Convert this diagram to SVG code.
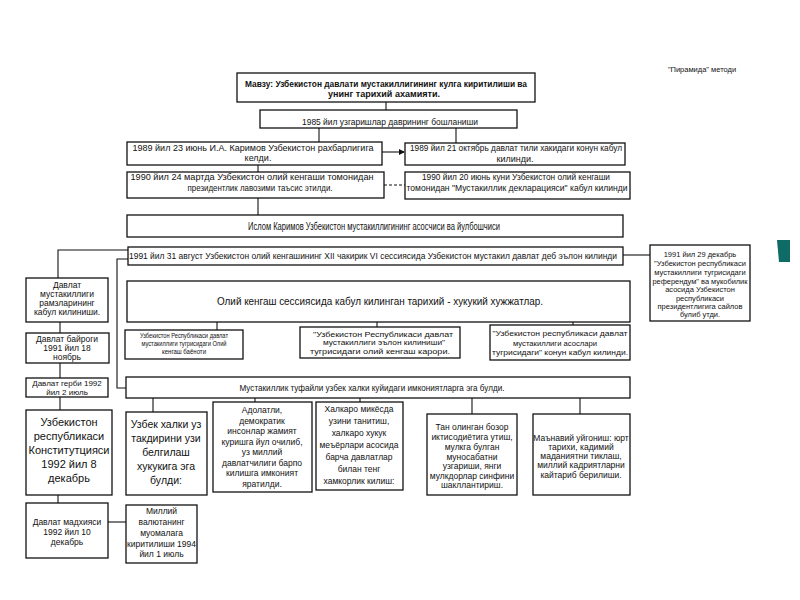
<svg xmlns="http://www.w3.org/2000/svg" width="800" height="600" viewBox="0 0 800 600">
<defs>
<marker id="arr" markerWidth="6" markerHeight="6" refX="5" refY="3" orient="auto" markerUnits="userSpaceOnUse"><path d="M0,0 L6,3 L0,6 z" fill="#111"/></marker>
</defs>
<style>
.b{fill:#fff;stroke:#111;stroke-width:1.3}
.c{fill:none;stroke:#111;stroke-width:1.1}
text{font-family:"Liberation Sans",Arial,sans-serif;fill:#111;text-anchor:middle}
.s7{font-size:7.5px}.s8{font-size:8px}.s85{font-size:8.5px}.s9{font-size:9px}.s10{font-size:10px}.s105{font-size:10.5px}.s11{font-size:11px}
.bd{font-weight:bold}
</style>
<rect width="800" height="600" fill="#fff"/>
<g id="connectors">
<path class="c" d="M386,102 V110"/>
<path class="c" d="M319,128 V142"/>
<path class="c" d="M456,128 V143"/>
<path class="c" d="M382,152 H404" marker-end="url(#arr)"/>
<path class="c" d="M258,165 V172"/>
<path class="c" d="M384,185 H405" stroke-dasharray="3,2"/>
<path class="c" d="M258,198 V215"/>
<path class="c" d="M623,255 H650"/>
<path class="c" d="M128,250 H58 V278"/>
<path class="c" d="M60,322 V333"/>
<path class="c" d="M60,363 V378"/>
<path class="c" d="M60,397 V410"/>
<path class="c" d="M128,259 H117 V388 H126"/>
<path class="c" d="M217,322 V330"/>
<path class="c" d="M377,322 V327"/>
<path class="c" d="M573,322 V325"/>
<path class="c" d="M153,398 V412"/>
<path class="c" d="M255,398 V402"/>
<path class="c" d="M360,398 V402"/>
<path class="c" d="M472,398 V414"/>
<path class="c" d="M580,398 V414"/>
<path class="c" d="M58,495 V503"/>
<path class="c" d="M108,522 H126" stroke-width="2"/>
</g>
<g id="title">
<rect class="b" x="237" y="73" width="298" height="29" stroke-width="2"/>
<text class="s9 bd" x="386" y="87" textLength="282" lengthAdjust="spacingAndGlyphs">Мавзу: Узбекистон давлати мустакиллигининг кулга киритилиши ва</text>
<text class="s9 bd" x="384" y="97" textLength="112" lengthAdjust="spacingAndGlyphs">унинг тарихий ахамияти.</text>
</g>
<g id="method"><text class="s7" x="702" y="72">"Пирамида" методи</text></g>
<g id="n1985">
<rect class="b" x="260" y="110" width="257" height="18"/>
<text class="s9" x="390" y="124.5" textLength="176" lengthAdjust="spacingAndGlyphs">1985 йил узгаришлар даврининг бошланиши</text>
</g>
<g id="n1989a">
<rect class="b" x="127" y="142" width="255" height="23"/>
<text class="s9" x="253" y="151" textLength="241" lengthAdjust="spacingAndGlyphs">1989 йил 23 июнь И.А. Каримов Узбекистон рахбарлигига</text>
<text class="s9" x="258" y="161">келди.</text>
</g>
<g id="n1989b">
<rect class="b" x="405" y="143" width="220" height="22"/>
<text class="s9" x="516" y="151" textLength="212" lengthAdjust="spacingAndGlyphs">1989 йил 21 октябрь давлат тили хакидаги конун кабул</text>
<text class="s9" x="515" y="162">килинди.</text>
</g>
<g id="n1990a">
<rect class="b" x="127" y="172" width="257" height="26"/>
<text class="s9" x="252" y="180" textLength="243" lengthAdjust="spacingAndGlyphs">1990 йил 24 мартда Узбекистон олий кенгаши томонидан</text>
<text class="s9" x="260" y="190.5" textLength="145" lengthAdjust="spacingAndGlyphs">президентлик лавозими таъсис этилди.</text>
</g>
<g id="n1990b">
<rect class="b" x="405" y="172" width="225" height="27"/>
<text class="s9" x="516" y="180" textLength="188" lengthAdjust="spacingAndGlyphs">1990 йил 20 июнь куни Узбекистон олий кенгаши</text>
<text class="s9" x="517" y="191" textLength="221" lengthAdjust="spacingAndGlyphs">томонидан "Мустакиллик декларацияси" кабул килинди</text>
</g>
<g id="karimov">
<rect class="b" x="127" y="215" width="496" height="22"/>
<text class="s10" x="374" y="230" textLength="252" lengthAdjust="spacingAndGlyphs">Ислом Каримов Узбекистон мустакиллигининг асосчиси ва йулбошчиси</text>
</g>
<g id="n1991aug">
<rect class="b" x="128" y="247" width="495" height="18"/>
<text class="s85" x="373" y="259" textLength="488" lengthAdjust="spacingAndGlyphs">1991 йил 31 август Узбекистон олий кенгашининг XII чакирик VI сессиясида Узбекистон мустакил давлат деб эълон килинди</text>
</g>
<g id="n1991dec">
<rect class="b" x="650" y="245" width="100" height="76"/>
<text class="s7" x="700" y="257">1991 йил 29 декабрь</text>
<text class="s7" x="700" y="266">"Узбекистон республикаси</text>
<text class="s7" x="700" y="275">мустакиллиги тугрисидаги</text>
<text class="s7" x="700" y="284" textLength="95" lengthAdjust="spacingAndGlyphs">референдум" ва мукобилик</text>
<text class="s7" x="700" y="292">асосида Узбекистон</text>
<text class="s7" x="700" y="301">республикаси</text>
<text class="s7" x="700" y="309">президентлигига сайлов</text>
<text class="s7" x="700" y="317">булиб утди.</text>
</g>
<g id="symbols">
<rect class="b" x="26" y="278" width="82" height="44"/>
<text class="s85" x="67" y="288">Давлат</text>
<text class="s85" x="67" y="297">мустакиллиги</text>
<text class="s85" x="67" y="306">рамзларининг</text>
<text class="s85" x="67" y="315">кабул килиниши.</text>
</g>
<g id="flag">
<rect class="b" x="26" y="333" width="83" height="30"/>
<text class="s85" x="67" y="342">Давлат байроги</text>
<text class="s85" x="67" y="351">1991 йил 18</text>
<text class="s85" x="67" y="360">ноябрь</text>
</g>
<g id="emblem">
<rect class="b" x="26" y="378" width="82" height="19"/>
<text class="s8" x="67" y="386">Давлат герби 1992</text>
<text class="s8" x="67" y="395">йил 2 июль</text>
</g>
<g id="docs">
<rect class="b" x="127" y="281" width="503" height="41"/>
<text class="s10" x="380" y="305" textLength="326" lengthAdjust="spacingAndGlyphs">Олий кенгаш сессиясида кабул килинган тарихий - хукукий хужжатлар.</text>
</g>
<g id="docA">
<rect class="b" x="125" y="330" width="118" height="29"/>
<text class="s8" x="184" y="338" textLength="88" lengthAdjust="spacingAndGlyphs">Узбекистон Республикаси давлат</text>
<text class="s8" x="184" y="346" textLength="85" lengthAdjust="spacingAndGlyphs">мустакиллиги тугрисидаги Олий</text>
<text class="s8" x="184" y="354" textLength="44" lengthAdjust="spacingAndGlyphs">кенгаш баёноти</text>
</g>
<g id="docB">
<rect class="b" x="300" y="327" width="160" height="31"/>
<text class="s8" x="383" y="337" textLength="140" lengthAdjust="spacingAndGlyphs">"Узбекистон Республикаси давлат</text>
<text class="s8" x="384" y="345" textLength="122" lengthAdjust="spacingAndGlyphs">мустакиллиги эълон килиниши"</text>
<text class="s8" x="380" y="354" textLength="140" lengthAdjust="spacingAndGlyphs">тугрисидаги олий кенгаш карори.</text>
</g>
<g id="docC">
<rect class="b" x="490" y="325" width="140" height="35"/>
<text class="s8" x="560" y="336" textLength="135" lengthAdjust="spacingAndGlyphs">"Узбекистон республикаси давлат</text>
<text class="s8" x="555" y="346" textLength="84" lengthAdjust="spacingAndGlyphs">мустакиллиги асослари</text>
<text class="s8" x="560" y="355" textLength="136" lengthAdjust="spacingAndGlyphs">тугрисидаги" конун кабул килинди.</text>
</g>
<g id="result">
<rect class="b" x="126" y="377" width="504" height="21"/>
<text class="s9" x="372" y="391" textLength="265" lengthAdjust="spacingAndGlyphs">Мустакиллик туфайли узбек халки куйидаги имкониятларга эга булди.</text>
</g>
<g id="constitution">
<rect class="b" x="26" y="410" width="86" height="85"/>
<text class="s11" x="69" y="426">Узбекистон</text>
<text class="s11" x="69" y="440">республикаси</text>
<text class="s11" x="69" y="454">Конститутцияси</text>
<text class="s11" x="69" y="468">1992 йил 8</text>
<text class="s11" x="69" y="482">декабрь</text>
</g>
<g id="selfdet">
<rect class="b" x="126" y="412" width="81" height="83"/>
<text class="s105" x="166" y="428">Узбек халки уз</text>
<text class="s105" x="166" y="442">такдирини узи</text>
<text class="s105" x="166" y="456">белгилаш</text>
<text class="s105" x="166" y="470">хукукига эга</text>
<text class="s105" x="166" y="484">булди:</text>
</g>
<g id="justice">
<rect class="b" x="213" y="402" width="99" height="90"/>
<text class="s85" x="262" y="413">Адолатли,</text>
<text class="s85" x="262" y="423.5">демократик</text>
<text class="s85" x="262" y="434">инсонлар жамият</text>
<text class="s85" x="262" y="444.5">куришга йул очилиб,</text>
<text class="s85" x="262" y="455">уз миллий</text>
<text class="s85" x="262" y="465.5">давлатчилиги барпо</text>
<text class="s85" x="262" y="476">килишга имконият</text>
<text class="s85" x="262" y="486.5">яратилди.</text>
</g>
<g id="intl">
<rect class="b" x="316" y="402" width="87" height="88"/>
<text class="s85" x="359" y="412">Халкаро микёсда</text>
<text class="s85" x="359" y="424">узини танитиш,</text>
<text class="s85" x="359" y="436">халкаро хукук</text>
<text class="s85" x="359" y="448">меъёрлари асосида</text>
<text class="s85" x="359" y="460">барча давлатлар</text>
<text class="s85" x="359" y="472">билан тенг</text>
<text class="s85" x="359" y="484">хамкорлик килиш:</text>
</g>
<g id="market">
<rect class="b" x="427" y="414" width="90" height="81"/>
<text class="s85" x="472" y="430">Тан олинган бозор</text>
<text class="s85" x="472" y="440">иктисодиётига утиш,</text>
<text class="s85" x="472" y="450">мулкга булган</text>
<text class="s85" x="472" y="459.5">муносабатни</text>
<text class="s85" x="472" y="469">узгариши, янги</text>
<text class="s85" x="472" y="478.5">мулкдорлар синфини</text>
<text class="s85" x="472" y="488">шакллантириш.</text>
</g>
<g id="spirit">
<rect class="b" x="533" y="414" width="97" height="81"/>
<text class="s85" x="581" y="441">Маънавий уйгониш: юрт</text>
<text class="s85" x="581" y="450">тарихи, кадимий</text>
<text class="s85" x="581" y="459">маданиятни тиклаш,</text>
<text class="s85" x="581" y="468">миллий кадриятларни</text>
<text class="s85" x="581" y="478">кайтариб берилиши.</text>
</g>
<g id="anthem">
<rect class="b" x="26" y="503" width="82" height="55"/>
<text class="s85" x="67" y="525">Давлат мадхияси</text>
<text class="s85" x="67" y="535">1992 йил 10</text>
<text class="s85" x="67" y="545">декабрь</text>
</g>
<g id="currency">
<rect class="b" x="126" y="505" width="71" height="58"/>
<text class="s85" x="161.5" y="514">Миллий</text>
<text class="s85" x="161.5" y="525">валютанинг</text>
<text class="s85" x="161.5" y="536">муомалага</text>
<text class="s85" x="161.5" y="547" textLength="69" lengthAdjust="spacingAndGlyphs">киритилиши 1994</text>
<text class="s85" x="161.5" y="557">йил 1 июль</text>
</g>
<polygon points="777,240 790,240 790,262 779,262" fill="#0f6b66"/>
</svg>
